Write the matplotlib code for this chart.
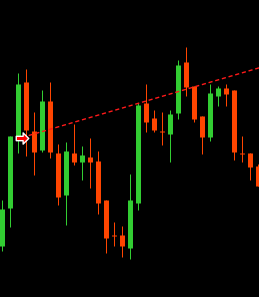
# -*- coding: utf-8 -*-
import matplotlib
matplotlib.use("Agg")
import matplotlib.pyplot as plt
from matplotlib.path import Path

# OHLC values (price units)
opens = [51, 89, 158, 215, 166, 147, 196, 144, 102, 144, 135, 140, 136, 97, 62, 62, 49,
         94, 194, 179, 166, 163, 184, 235, 211, 181, 160, 201, 209, 207, 144, 144, 131]
highs = [97, 161, 224, 228, 185, 207, 215, 153, 155, 173, 151, 159, 146, 97, 75, 71, 123,
         194, 213, 187, 185, 187, 237, 250, 211, 181, 213, 211, 213, 207, 161, 144, 133]
lows = [46, 70, 144, 141, 122, 145, 139, 92, 72, 132, 117, 109, 83, 44, 51, 40, 38,
        87, 165, 165, 152, 135, 178, 201, 175, 143, 156, 191, 191, 137, 135, 117, 111]
closes = [88, 161, 213, 167, 145, 196, 145, 100, 146, 135, 142, 135, 94, 59, 61, 51, 97,
          192, 175, 167, 165, 183, 232, 210, 178, 160, 204, 209, 203, 145, 143, 130, 111]

# trend line: start point and slope per bar
trend_start = (2.56, 159.5)
trend_slope = 2.35

up_color = "#32cd32"
down_color = "#ff4500"

fig = plt.figure(figsize=(2.59, 2.97), dpi=100, facecolor="black")
ax = fig.add_axes([0, 0, 1, 1])
ax.set_facecolor("black")
ax.set_axis_off()

px = 72.0 / 100  # one pixel in points

n = len(opens)
for i in range(n):
    o, h, l, c = opens[i], highs[i], lows[i], closes[i]
    color = up_color if c > o else down_color
    ax.vlines(i, l, h, color=color, linewidth=px)
    bottom = min(o, c)
    top = max(o, c)
    if top - bottom < 1:
        top = bottom + 1
    ax.vlines(i, bottom, top, color=color, linewidth=5 * px)

x_end = 32.2
x0, y0 = trend_start
ax.plot([x0, x_end], [y0, y0 + (x_end - x0) * trend_slope],
        color="#ff1a1a", linewidth=1, linestyle=(0, (3, 2)))

arrow = Path([(-1, 0.35), (0.1, 0.35), (0.1, 0.9), (1, 0), (0.1, -0.9),
              (0.1, -0.35), (-1, -0.35), (-1, 0.35)],
             [Path.MOVETO] + [Path.LINETO] * 6 + [Path.CLOSEPOLY])
ax.plot([x0], [y0], marker=arrow, markersize=9, markerfacecolor="#ff0000",
        markeredgecolor="white", markeredgewidth=1, linestyle="none")

ax.set_xlim(-0.1875, 32.1875)
ax.set_ylim(0, 297)

fig.savefig("out.png", dpi=100, facecolor="black")
